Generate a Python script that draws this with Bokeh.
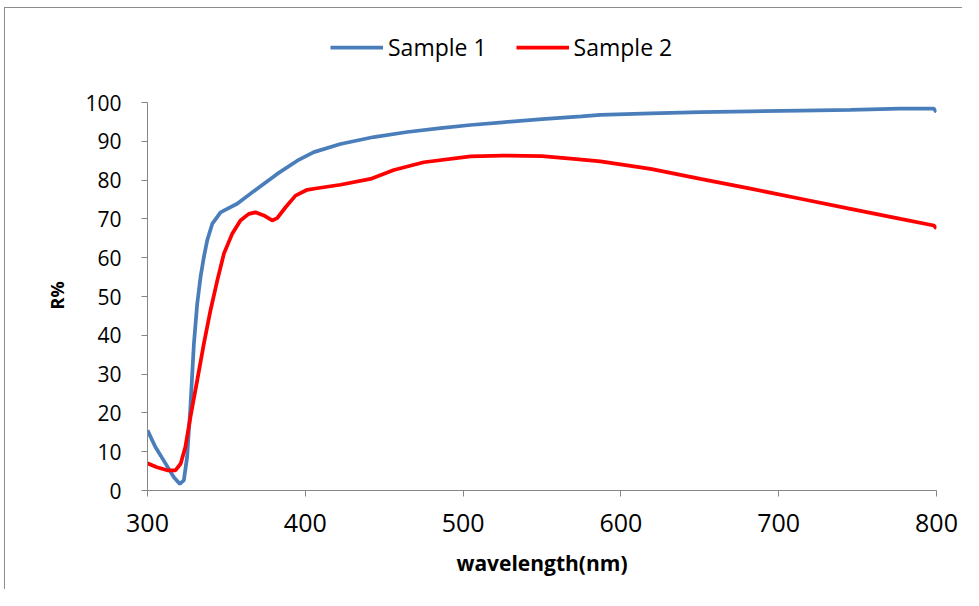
from bokeh.plotting import figure
from bokeh.models import Range1d, FixedTicker, Legend, LegendItem, Title
from bokeh.embed import file_html
from bokeh.resources import INLINE

# ---- data ----
wl1 = [300, 305, 310.3, 316.7, 320.5, 323, 325.1, 327.2, 329.4, 331.5, 333.6, 335.7,
       337.8, 341, 346.3, 350.5, 356.8, 369.5, 382.2, 394.9, 405.4, 422.3, 443.4,
       464.6, 485.7, 504.7, 525, 550, 575, 587, 618.8, 650.4, 682.1, 713.8, 745.5,
       777, 798.3, 800]
r1 = [15.5, 11.2, 7.7, 3.4, 1.7, 2.6, 8.6, 21.5, 37.8, 48.1, 55.0, 60.1,
      64.4, 68.7, 71.7, 72.6, 73.9, 77.8, 81.6, 85.0, 87.2, 89.3, 91.1,
      92.4, 93.4, 94.2, 94.9, 95.7, 96.4, 96.8, 97.2, 97.5, 97.7, 97.9, 98.1,
      98.4, 98.4, 97.5]

wl2 = [300, 306, 312.5, 317.7, 321, 324, 327.2, 331.5, 335.7, 339.9, 344.2, 348.4,
       353.7, 358.9, 364.2, 368.4, 373.7, 379, 382.2, 387.5, 393.8, 401.2, 407.5,
       422.3, 441.3, 456.1, 475.1, 504.7, 525, 550, 570, 587, 618.8, 650.4, 682.1,
       713.8, 745.5, 777.2, 798.3, 800]
r2 = [7.0, 6.0, 5.2, 5.2, 6.9, 11.2, 18.9, 28.4, 37.8, 46.4, 54.1, 61.0,
      66.2, 69.6, 71.3, 71.7, 70.9, 69.6, 70.2, 73.0, 76.0, 77.5, 77.9,
      78.8, 80.3, 82.6, 84.6, 86.1, 86.3, 86.2, 85.5, 84.8, 82.9, 80.3, 77.8,
      75.2, 72.6, 70.0, 68.3, 67.5]

series_names = ["Sample 1", "Sample 2"]
x_ticks = [300, 400, 500, 600, 700, 800]
y_ticks = [0, 10, 20, 30, 40, 50, 60, 70, 80, 90, 100]

FONT = "Open Sans"
AXIS_GRAY = "#868686"

# frame extends above the 0-100 axis so the legend can sit inside it
TOP_PAD_PX = 84
PX_PER_UNIT = 3.88

p = figure(width=958, height=582, output_backend="svg", toolbar_location=None,
           x_range=Range1d(300, 800),
           y_range=Range1d(0, 100 + TOP_PAD_PX / PX_PER_UNIT))
p.min_border_left = 142
p.min_border_right = 27
p.min_border_top = 10
p.min_border_bottom = 100
p.outline_line_color = None
p.background_fill_color = "white"
p.border_fill_color = "white"
p.xgrid.visible = False
p.ygrid.visible = False
p.styles = {"margin-left": "4px", "margin-top": "7px",
            "border-left": "1px solid #8c8c8c", "border-top": "1px solid #8c8c8c"}

l1 = p.line(wl1, r1, line_color="#4a7ebb", line_width=3.75)
l2 = p.line(wl2, r2, line_color="#ff0000", line_width=3.75)

for ax in (p.xaxis[0], p.yaxis[0]):
    ax.axis_line_color = AXIS_GRAY
    ax.major_tick_line_color = AXIS_GRAY
    ax.minor_tick_line_color = None
    ax.major_tick_out = 6
    ax.major_tick_in = 0
    ax.major_label_text_font = FONT
    ax.major_label_text_color = "black"
    ax.axis_label_text_font = FONT
    ax.axis_label_text_font_style = "bold"
    ax.axis_label_text_color = "black"

p.yaxis.bounds = (0, 100)
p.xaxis.ticker = FixedTicker(ticks=x_ticks)
p.yaxis.ticker = FixedTicker(ticks=y_ticks)
p.xaxis.major_label_text_font_size = "25px"
p.yaxis.major_label_text_font_size = "21px"
p.xaxis.major_label_standoff = 17
p.yaxis.major_label_standoff = 20
p.xaxis.axis_label = "wavelength(nm)"
p.xaxis.axis_label_text_font_size = "21px"
p.xaxis.axis_label_standoff = 14

# y-axis title centred on the 0-100 part of the axis
ytitle = Title(text="R%", align="left", offset=181, standoff=27,
               text_font=FONT, text_font_style="bold", text_font_size="18px",
               text_color="black")
p.add_layout(ytitle, "left")

legend = Legend(items=[LegendItem(label=series_names[0], renderers=[l1]),
                       LegendItem(label=series_names[1], renderers=[l2])],
                orientation="horizontal", location=(183, 427))
legend.glyph_width = 53
legend.glyph_height = 30
legend.label_height = 30
legend.label_standoff = 5
legend.spacing = 29
legend.padding = 0
legend.margin = 0
legend.border_line_color = None
legend.background_fill_alpha = 0
legend.label_text_font = FONT
legend.label_text_font_size = "23px"
legend.label_text_color = "black"
p.add_layout(legend, "center")

open("out.html", "w").write(file_html(p, INLINE))
